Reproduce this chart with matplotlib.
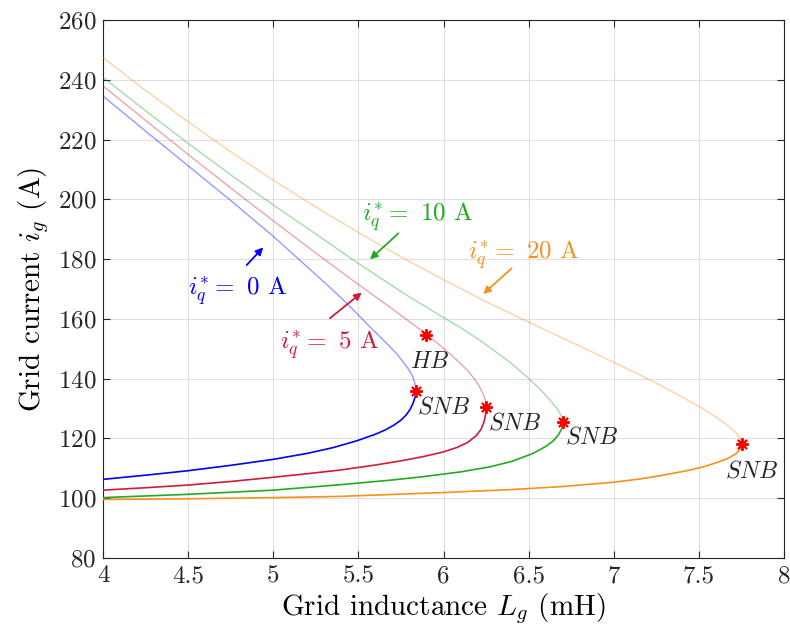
import numpy as np
import matplotlib
matplotlib.use("Agg")
import matplotlib.pyplot as plt

plt.rcParams['font.family'] = 'serif'
plt.rcParams['font.serif'] = ['cmr10']
plt.rcParams['mathtext.fontset'] = 'cm'
plt.rcParams['axes.unicode_minus'] = False
plt.rcParams['axes.formatter.use_mathtext'] = True

# nose curves: lower (stable) branch from Lg=4 up to SNB, upper branch from SNB back to Lg=4
blue_lo_L = [4.0, 4.25, 4.5, 4.75, 5.0, 5.2, 5.35, 5.49, 5.6, 5.66, 5.71, 5.75, 5.78, 5.805, 5.822, 5.834, 5.838]
blue_lo_i = [106.3, 107.7, 109.2, 111.0, 113.0, 115.0, 116.9, 119.2, 121.4, 122.9, 124.5, 126.1, 127.8, 129.8, 131.9, 134.0, 136.0]
blue_up_L = [5.838, 5.835, 5.829, 5.82, 5.807, 5.79, 5.771, 5.75, 5.722, 5.68, 5.627, 5.573, 5.51, 5.452,
             5.392, 5.275, 5.137, 5.0, 4.75, 4.5, 4.25, 4.0]
blue_up_i = [136.0, 137.5, 139.0, 140.5, 142.0, 143.5, 145.0, 146.5, 148.5, 151.0, 154.0, 157.0, 160.7, 164.0,
             167.4, 173.5, 180.6, 187.6, 199.6, 211.2, 222.8, 234.5]

red_lo_L = [4.0, 4.25, 4.5, 4.75, 5.0, 5.2, 5.39, 5.6, 5.75, 5.88, 6.0, 6.08, 6.14, 6.19, 6.22, 6.238, 6.247, 6.25]
red_lo_i = [102.7, 103.5, 104.4, 105.6, 107.0, 108.2, 109.4, 111.1, 112.5, 113.9, 115.5, 117.0, 118.6, 120.8, 123.0, 125.5, 128.0, 130.4]
red_up_L = [6.25, 6.246, 6.232, 6.21, 6.18, 6.145, 6.1, 6.05, 5.995, 5.935, 5.87, 5.75, 5.6, 5.45, 5.25,
            5.0, 4.75, 4.5, 4.25, 4.0]
red_up_i = [130.4, 132.8, 135.0, 137.5, 140.0, 142.5, 145.0, 147.7, 150.4, 153.2, 156.1, 161.2, 167.4, 173.6, 182.0,
            192.8, 203.8, 215.0, 226.4, 237.9]

green_lo_L = [4.0, 4.5, 5.0, 5.39, 5.7, 5.88, 6.1, 6.273, 6.4, 6.527, 6.6, 6.645, 6.675, 6.695, 6.704]
green_lo_i = [100.2, 101.3, 102.7, 104.5, 106.1, 107.2, 108.8, 110.5, 112.3, 115.0, 117.3, 119.2, 121.2, 123.3, 125.4]
green_up_L = [6.704, 6.694, 6.67, 6.626, 6.57, 6.49, 6.39, 6.234, 6.1, 5.98, 5.764, 5.47, 5.25, 5.0, 4.75, 4.5, 4.25, 4.0]
green_up_i = [125.4, 127.3, 129.8, 132.8, 136.3, 140.6, 145.5, 152.0, 157.1, 161.1, 168.6, 179.7, 188.4, 198.1, 208.2, 218.7, 229.6, 240.8]

orange_lo_L = [4.0, 4.5, 5.0, 5.39, 6.0, 6.4, 6.7, 6.99, 7.15, 7.28, 7.42, 7.52, 7.61, 7.67, 7.715, 7.742, 7.755]
orange_lo_i = [99.6, 99.8, 100.2, 100.6, 101.9, 102.9, 103.9, 105.3, 106.4, 107.6, 109.1, 110.4, 112.0, 113.3, 114.8, 116.4, 118.1]
orange_up_L = [7.755, 7.745, 7.72, 7.67, 7.6, 7.51, 7.39, 7.27, 7.13, 6.98, 6.8, 6.65, 6.49, 6.234, 5.98, 5.764,
               5.5, 5.25, 5.0, 4.75, 4.5, 4.25, 4.0]
orange_up_i = [118.1, 119.8, 121.8, 124.3, 127.2, 130.4, 134.2, 137.9, 141.9, 146.0, 150.9, 154.9, 159.2, 166.2, 173.7, 180.3,
               188.9, 197.4, 206.4, 215.9, 225.9, 236.4, 247.4]

# bifurcation points
snb_L = [5.838, 6.25, 6.704, 7.755]
snb_i = [136.0, 130.4, 125.4, 118.1]
hb_L = [5.90]
hb_i = [154.6]

xticks = [4, 4.5, 5, 5.5, 6, 6.5, 7, 7.5, 8]
xticklabels = ['4', '4.5', '5', '5.5', '6', '6.5', '7', '7.5', '8']
yticks = list(range(80, 261, 20))

c_blue = '#0000ff'
c_red = '#d01c3c'
c_green = '#22aa22'
c_orange = '#f5911e'

fig = plt.figure(figsize=(7.9, 6.33), dpi=100)
ax = fig.add_axes([0.1304, 0.1185, 0.862, 0.850])

curves = [
    (blue_lo_L, blue_lo_i, blue_up_L, blue_up_i, c_blue),
    (red_lo_L, red_lo_i, red_up_L, red_up_i, c_red),
    (green_lo_L, green_lo_i, green_up_L, green_up_i, c_green),
    (orange_lo_L, orange_lo_i, orange_up_L, orange_up_i, c_orange),
]
for loL, loi, upL, upi, col in curves:
    ax.plot(loL, loi, color=col, lw=1.2, zorder=3, solid_joinstyle='round')
    ax.plot(upL, upi, color=col, lw=1.0, alpha=0.4, zorder=3, solid_joinstyle='round')

ax.plot(snb_L, snb_i, ls='none', marker=(8, 2, 0), ms=9, mew=1.4, color='red', zorder=4)
ax.plot(hb_L, hb_i, ls='none', marker=(8, 2, 0), ms=9, mew=1.4, color='red', zorder=4)

# labels of bifurcations
lab = dict(fontsize=17, ha='center', va='center', color='0.15')
ax.text(5.92, 145.6, r'$HB$', **lab)
ax.text(6.0, 130.5, r'$SNB$', **lab)
ax.text(6.42, 125.0, r'$SNB$', **lab)
ax.text(6.87, 120.3, r'$SNB$', **lab)
ax.text(7.81, 109.0, r'$SNB$', **lab)

# curve annotations
aprops = dict(arrowstyle='-|>', lw=1.3, mutation_scale=11, shrinkA=0, shrinkB=0)
ax.text(4.5, 169.6, r'$i_q^{*} =$ 0 A', fontsize=18, color=c_blue, ha='left', va='center')
ax.annotate('', xy=(4.941, 183.9), xytext=(4.844, 178.0), arrowprops=dict(aprops, color=c_blue))
ax.text(5.04, 151.5, r'$i_q^{*} =$ 5 A', fontsize=18, color=c_red, ha='left', va='center')
ax.annotate('', xy=(5.52, 168.8), xytext=(5.333, 160.2), arrowprops=dict(aprops, color=c_red))
ax.text(5.52, 194.2, r'$i_q^{*} =$ 10 A', fontsize=18, color=c_green, ha='left', va='center')
ax.annotate('', xy=(5.568, 179.9), xytext=(5.735, 188.6), arrowprops=dict(aprops, color=c_green))
ax.text(6.145, 181.6, r'$i_q^{*} =$ 20 A', fontsize=18, color=c_orange, ha='left', va='center')
ax.annotate('', xy=(6.233, 168.3), xytext=(6.40, 176.9), arrowprops=dict(aprops, color=c_orange))

ax.set_xlim(4, 8)
ax.set_ylim(80, 260)
ax.set_xticks(xticks)
ax.set_xticklabels(xticklabels)
ax.set_yticks(yticks)
ax.tick_params(direction='in', top=True, right=True, labelsize=18, length=5, width=0.8, colors='0.15', pad=5)
ax.grid(True, color='0.88', lw=0.8)
ax.set_axisbelow(True)
for s in ax.spines.values():
    s.set_color('0.15')
    s.set_linewidth(0.8)

ax.set_xlabel(r'Grid inductance $L_g$ (mH)', fontsize=21, labelpad=3)
ax.set_ylabel(r'Grid current $i_g$ (A)', fontsize=21, labelpad=5)

fig.savefig('out.png', dpi=100)
